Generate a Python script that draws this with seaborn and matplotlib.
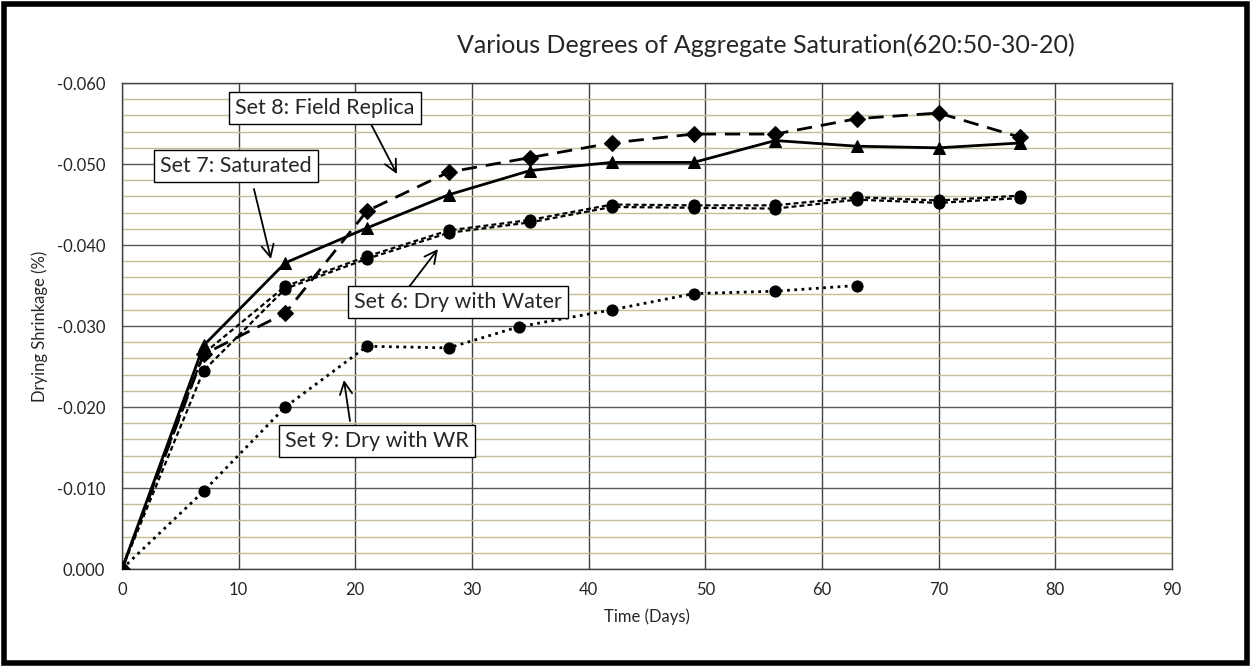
import matplotlib
matplotlib.use("Agg")
import matplotlib.pyplot as plt
from matplotlib.patches import Rectangle
from matplotlib.ticker import FixedLocator, FuncFormatter, MultipleLocator
import seaborn as sns
import pandas as pd

# Drying shrinkage (%) versus time (days)
days = [0, 7, 14, 21, 28, 35, 42, 49, 56, 63, 70, 77]
set7_saturated = [0.0, -0.0276, -0.0378, -0.0421, -0.0462, -0.0492, -0.0502, -0.0502,
                  -0.0529, -0.0522, -0.0520, -0.0526]
set8_field = [0.0, -0.0265, -0.0316, -0.0442, -0.0490, -0.0508, -0.0526, -0.0537,
              -0.0537, -0.0556, -0.0563, -0.0533]
set6_water_a = [0.0, -0.0266, -0.0349, -0.0386, -0.0418, -0.0431, -0.0450, -0.0449,
                -0.0449, -0.0459, -0.0455, -0.0461]
set6_water_b = [0.0, -0.0245, -0.0346, -0.0383, -0.0415, -0.0428, -0.0447, -0.0446,
                -0.0445, -0.0456, -0.0452, -0.0458]
days9 = [0, 7, 14, 21, 28, 34, 42, 49, 56, 63]
set9_wr = [0.0, -0.0096, -0.0200, -0.0275, -0.0273, -0.0299, -0.0320, -0.0340,
           -0.0343, -0.0350]

y_ticks = [0.0, -0.01, -0.02, -0.03, -0.04, -0.05, -0.06]

sns.set_style("white")
plt.rcParams["font.family"] = ["Lato", "DejaVu Sans"]

fig = plt.figure(figsize=(12.52, 6.68), dpi=100)
ax = fig.add_axes([0.0974, 0.1482, 0.8387, 0.7275])

series = [
    (days, set8_field, dict(linestyle=(0, (5.5, 3.2)), marker="D", markersize=8, linewidth=2.0)),
    (days, set7_saturated, dict(linestyle="-", marker="^", markersize=9, linewidth=2.0)),
    (days, set6_water_a, dict(linestyle=(0, (2.2, 1.4)), marker="o", markersize=8, linewidth=1.6)),
    (days, set6_water_b, dict(linestyle=(0, (2.2, 1.4)), marker="o", markersize=8, linewidth=1.6)),
    (days9, set9_wr, dict(linestyle=(0, (1, 1.6)), marker="o", markersize=8, linewidth=2.0)),
]
for xs, ys, style in series:
    df = pd.DataFrame({"day": xs, "shrink": ys})
    sns.lineplot(data=df, x="day", y="shrink", ax=ax, color="black",
                 markeredgecolor="black", zorder=5, sort=False, **style)

ax.set_xlim(0, 90)
ax.set_ylim(0, -0.06)
ax.xaxis.set_major_locator(MultipleLocator(10))
ax.yaxis.set_major_locator(FixedLocator(y_ticks))
ax.yaxis.set_minor_locator(MultipleLocator(0.002))
ax.yaxis.set_major_formatter(FuncFormatter(lambda v, p: "0.000" if abs(v) < 1e-9 else f"{v:.3f}"))

ax.grid(which="minor", axis="y", color="#C4BD97", linewidth=1.0)
ax.grid(which="major", axis="y", color="#595959", linewidth=1.0)
ax.grid(which="major", axis="x", color="#404040", linewidth=1.0)
ax.set_axisbelow(True)
for s in ax.spines.values():
    s.set_color("#404040")
    s.set_linewidth(1.0)

ax.tick_params(axis="y", which="major", direction="out", length=6, color="#595959",
               labelsize=12, pad=6)
ax.tick_params(axis="y", which="minor", length=0)
ax.tick_params(axis="x", which="major", length=0, labelsize=12, pad=9)

ax.set_xlabel("Time (Days)", fontsize=12, labelpad=8)
ax.set_ylabel("Drying Shrinkage (%)", fontsize=12, labelpad=6)
fig.text(0.612, 0.932, "Various Degrees of Aggregate Saturation(620:50-30-20)",
         ha="center", va="center", fontsize=18)


def px2data(px, py):
    return (px - 122) / (1050 / 90), -(569 - py) / 81 * 0.01


labels = [
    ("Set 8: Field Replica", (325, 108), (371, 124), (397, 174)),
    ("Set 7: Saturated", (236, 166), (254, 189), (271, 259)),
    ("Set 6: Dry with Water", (458, 302), (409, 287), (438, 249)),
    ("Set 9: Dry with WR", (377, 441), (350, 421), (344, 380)),
]
for text, center, tail, head in labels:
    ax.annotate("", xy=px2data(*head), xytext=px2data(*tail),
                arrowprops=dict(arrowstyle="->", color="black", lw=1.3,
                                mutation_scale=22, shrinkA=0, shrinkB=0),
                zorder=6)
    ax.text(*px2data(*center), text, ha="center", va="center", fontsize=15.5,
            zorder=7, bbox=dict(boxstyle="square,pad=0.3", facecolor="white",
                                edgecolor="black", linewidth=1.0))

fig.patches.append(Rectangle((4 / 1252, 5 / 668), 1243 / 1252, 659 / 668,
                             transform=fig.transFigure, fill=False,
                             edgecolor="black", linewidth=4))

fig.savefig("out.png", dpi=100)
